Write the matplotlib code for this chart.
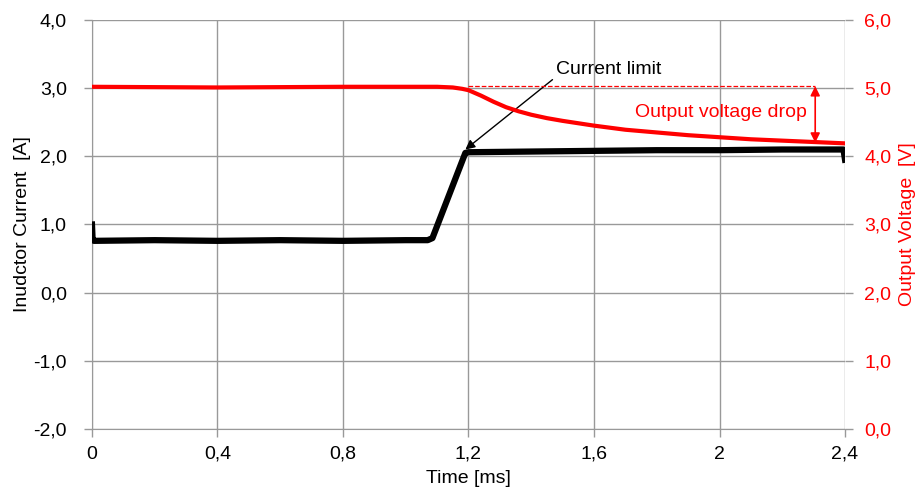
import matplotlib
matplotlib.use("Agg")
import matplotlib.pyplot as plt

plt.rcParams["font.family"] = ["Liberation Sans", "DejaVu Sans"]

# inductor current [A]
t_cur = [0.0, 0.002, 0.006, 0.2, 0.4, 0.6, 0.8, 1.0, 1.07, 1.085, 1.19, 1.2,
         1.4, 1.6, 1.8, 2.0, 2.2, 2.395, 2.4]
i_cur = [1.0, 0.78, 0.76, 0.77, 0.76, 0.77, 0.76, 0.77, 0.77, 0.80, 2.05, 2.06,
         2.07, 2.08, 2.09, 2.09, 2.10, 2.10, 1.95]

# output voltage [V]
t_vout = [0.0, 0.4, 0.8, 1.1, 1.15, 1.18, 1.2, 1.24, 1.28, 1.32, 1.36, 1.4,
          1.45, 1.5, 1.6, 1.7, 1.8, 1.9, 2.0, 2.1, 2.2, 2.3, 2.4]
v_out = [5.02, 5.01, 5.02, 5.02, 5.01, 4.99, 4.97, 4.89, 4.80, 4.72, 4.66, 4.61,
         4.56, 4.52, 4.45, 4.39, 4.35, 4.31, 4.28, 4.25, 4.23, 4.21, 4.19]

x_ticks = [0, 0.4, 0.8, 1.2, 1.6, 2.0, 2.4]
x_labels = ["0", "0,4", "0,8", "1,2", "1,6", "2", "2,4"]
y_ticks = [-2, -1, 0, 1, 2, 3, 4]
y2_ticks = [0, 1, 2, 3, 4, 5, 6]

GRID = "#999999"
FS = 14

fig = plt.figure(figsize=(9.17, 4.91), dpi=100)
ax = fig.add_axes([0.1003, 0.1263, 0.8212, 0.833])
ax2 = ax.twinx()

ax.set_xlim(0, 2.4)
ax.set_ylim(-2, 4)
ax2.set_ylim(0, 6)

ax.set_xticks(x_ticks)
ax.set_xticklabels(x_labels)
ax.set_yticks(y_ticks)
ax.set_yticklabels([f"{v:.1f}".replace(".", ",") for v in y_ticks])
ax2.set_yticks(y2_ticks)
ax2.set_yticklabels([f"{v:.1f}".replace(".", ",") for v in y2_ticks])

ax.grid(True, color=GRID, linewidth=1)
ax.set_axisbelow(True)

for a in (ax, ax2):
    for s in a.spines.values():
        s.set_visible(False)
ax.spines["left"].set_visible(True)
ax.spines["left"].set_color(GRID)
ax.spines["bottom"].set_visible(True)
ax.spines["bottom"].set_color(GRID)

ax.tick_params(axis="both", colors=GRID, labelcolor="black", labelsize=FS,
               length=6, width=1)
ax.tick_params(axis="x", pad=6)
ax.tick_params(axis="y", pad=12)
ax2.tick_params(axis="y", colors=GRID, labelcolor="red", labelsize=FS,
                length=6, width=1, pad=8)

ax.set_xlabel("Time [ms]", fontsize=FS, labelpad=5)
ax.set_ylabel("Inudctor Current  [A]", fontsize=FS, labelpad=1.5)
ax2.set_ylabel("Output Voltage  [V]", fontsize=FS, color="red", labelpad=5)

ax.plot(t_cur, i_cur, color="black", linewidth=4.5, solid_joinstyle="round",
        zorder=4)
ax2.plot(t_vout, v_out, color="red", linewidth=3, zorder=3)

# dashed reference level and voltage drop arrow
ax2.plot([1.2, 2.305], [5.03, 5.03], color="red", linestyle="--", linewidth=0.9)
ax2.annotate("", xy=(2.305, 4.2), xytext=(2.305, 5.03),
             arrowprops=dict(arrowstyle="<|-|>", color="red", lw=1.2,
                             mutation_scale=14, shrinkA=0, shrinkB=0))
ax2.text(2.005, 4.65, "Output voltage drop", color="red", fontsize=FS,
         ha="center", va="center")

ax.annotate("Current limit", xy=(1.19, 2.1), xytext=(1.48, 3.27),
            fontsize=FS, ha="left", va="center",
            arrowprops=dict(arrowstyle="-|>", color="black", lw=1,
                            mutation_scale=14, shrinkA=1, shrinkB=0,
                            relpos=(0.0, 0.1)))

fig.savefig("out.png", dpi=100)
